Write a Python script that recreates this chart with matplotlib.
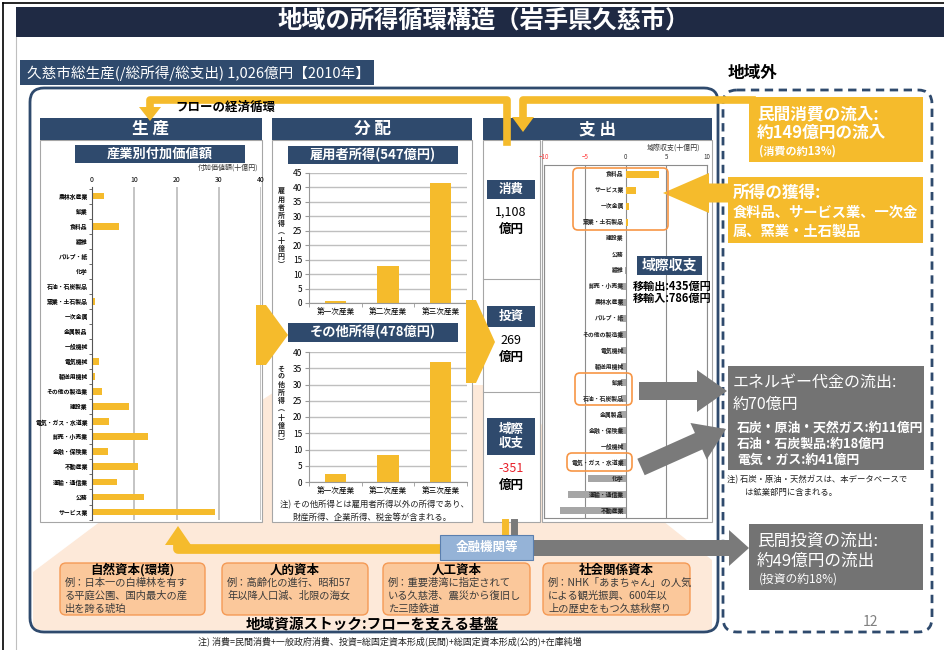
import matplotlib.pyplot as plt
import numpy as np
from matplotlib.patches import Rectangle, FancyBboxPatch, Polygon
from matplotlib.lines import Line2D

plt.rcParams['font.family'] = ['Noto Sans CJK JP', 'DejaVu Sans']

W, H = 944, 650

# ---- data ----
ind_labels = ['農林水産業', '鉱業', '食料品', '繊維', 'パルプ・紙', '化学', '石油・石炭製品',
              '窯業・土石製品', '一次金属', '金属製品', '一般機械', '電気機械', '輸送用機械',
              'その他の製造業', '建設業', '電気・ガス・水道業', '卸売・小売業', '金融・保険業',
              '不動産業', '運輸・通信業', '公務', 'サービス業']
value_added = [2.9, 0.1, 6.5, 0.1, 0.1, 0.1, 0.3, 0.8, 0.0, 0.1, 0.0, 1.7, 0.8,
               2.3, 8.7, 4.0, 13.2, 3.8, 10.8, 5.9, 12.3, 29.1]

sectors = ['第一次産業', '第二次産業', '第三次産業']
employee_income = [0.6, 12.8, 41.4]
other_income = [2.4, 8.4, 37.0]

bal_labels = ['食料品', 'サービス業', '一次金属', '窯業・土石製品', '建設業', '公務', '繊維',
              '卸売・小売業', '農林水産業', 'パルプ・紙', 'その他の製造業', '電気機械',
              '輸送用機械', '鉱業', '石油・石炭製品', '金属製品', '金融・保険業', '一般機械',
              '電気・ガス・水道業', '化学', '運輸・通信業', '不動産業']
balance = [4.1, 1.3, 0.4, 0.3, 0.0, 0.0, -0.1, -0.5, -0.8, -0.7, -0.7, -0.5,
           -0.5, -0.5, -0.6, -0.8, -0.8, -0.5, -0.7, -4.6, -7.0, -8.0]

resources = [
    ('自然資本(環境)', ['例：日本一の白樺林を有す', 'る平庭公園、国内最大の産', '出を誇る琥珀']),
    ('人的資本', ['例：高齢化の進行、昭和57', '年以降人口減、北限の海女']),
    ('人工資本', ['例：重要港湾に指定されて', 'いる久慈港、震災から復旧し', 'た三陸鉄道']),
    ('社会関係資本', ['例：NHK「あまちゃん」の人気', 'による観光振興、600年以', '上の歴史をもつ久慈秋祭り']),
]

navy = '#2f4a6d'
navy_dark = '#1f2a44'
yellow = '#f5bb2c'
gray = '#7a7a7a'
bar_gray = '#a6a6a6'
orange = '#f79646'
peach = '#fde9d9'

fig = plt.figure(figsize=(W / 100, H / 100), dpi=100, facecolor='white')


def pax(x0, y0, x1, y1, z=1):
    return fig.add_axes([x0 / W, 1 - y1 / H, (x1 - x0) / W, (y1 - y0) / H], zorder=z)


def canvas(z):
    a = pax(0, 0, W, H, z)
    a.set_xlim(0, W)
    a.set_ylim(H, 0)
    a.axis('off')
    return a


bg = canvas(0)
fg = canvas(5)


def rect(ax, x0, y0, x1, y1, fc, ec='none', lw=0, z=1):
    ax.add_patch(Rectangle((x0, y0), x1 - x0, y1 - y0, fc=fc, ec=ec, lw=lw, zorder=z))


def rbox(ax, x0, y0, x1, y1, fc, ec, lw=1, r=8, ls='-', z=1):
    ax.add_patch(FancyBboxPatch((x0, y0), x1 - x0, y1 - y0,
                                boxstyle='round,pad=0,rounding_size=%d' % r,
                                fc=fc, ec=ec, lw=lw, ls=ls, zorder=z))


def txt(ax, x, y, s, size, color='black', weight='normal', ha='center', va='center', **kw):
    ax.text(x, y, s, fontsize=size, color=color, fontweight=weight, ha=ha, va=va, **kw)


def arrow(ax, x0, y0, x1, y1, sw, hw, hl, color, z=3):
    d = np.array([x1 - x0, y1 - y0], float)
    L = np.hypot(*d)
    u = d / L
    n = np.array([-u[1], u[0]])
    p0 = np.array([x0, y0], float)
    pb = p0 + u * (L - hl)
    pts = [p0 + n * sw / 2, pb + n * sw / 2, pb + n * hw / 2, np.array([x1, y1]),
           pb - n * hw / 2, pb - n * sw / 2, p0 - n * sw / 2]
    ax.add_patch(Polygon(pts, closed=True, fc=color, ec='none', zorder=z))


# ---- frame, title ----
bg.add_line(Line2D([3, W], [3, 3], color='black', lw=1.2))
bg.add_line(Line2D([3, 3], [3, H], color='black', lw=1.2))
bg.add_line(Line2D([16, 16], [37, H], color='#bfbfbf', lw=0.8))
rect(bg, 16, 7, W, 37, navy_dark)
txt(bg, 484, 21, '地域の所得循環構造（岩手県久慈市）', 17.5, 'white', 'bold')

rect(bg, 20, 60, 374, 85, navy)
txt(bg, 27, 73, '久慈市総生産(/総所得/総支出) 1,026億円【2010年】', 10.5, 'white', ha='left')
txt(bg, 728, 73, '地域外', 12, 'black', 'bold', ha='left')

# peach stock background
bg.add_patch(Polygon([(33, 630), (33, 572), (262, 400), (285, 385), (492, 385), (712, 560),
                      (712, 630)], closed=True, fc=peach, ec='none', zorder=0.5))

rbox(bg, 30, 88, 718, 632, 'none', navy, lw=2, r=14)
rbox(bg, 723, 90, 932, 632, 'none', navy, lw=2, r=14, ls=(0, (3, 2)))

# panels
rect(bg, 40, 140, 262, 522, 'white', '#a6a6a6', 0.8)
rect(bg, 272, 140, 472, 522, 'white', '#a6a6a6', 0.8)
rect(bg, 483, 140, 540, 522, 'white', '#a6a6a6', 0.8)
rect(bg, 542, 140, 712, 522, 'white', '#a6a6a6', 0.8)
for yy in (279, 392):
    bg.add_line(Line2D([483, 540], [yy, yy], color='#a6a6a6', lw=0.8, zorder=2))

for (x0, x1, s) in [(40, 262, '生 産'), (272, 472, '分 配'), (483, 712, '支 出')]:
    rect(bg, x0, 118, x1, 140, navy, z=2)
    txt(bg, (x0 + x1) / 2, 129, s, 12, 'white', 'bold', zorder=3)

rect(bg, 75, 145, 245, 163, navy, z=2)
txt(bg, 160, 154, '産業別付加価値額', 9.5, 'white', 'bold', zorder=3)
txt(bg, 258, 168, '付加価値額(十億円)', 5, '#333333', ha='right', zorder=3)

rect(bg, 288, 146, 458, 164, navy, z=2)
txt(bg, 373, 155, '雇用者所得(547億円)', 9.5, 'white', 'bold', zorder=3)
rect(bg, 288, 323, 458, 342, navy, z=2)
txt(bg, 373, 332, 'その他所得(478億円)', 9.5, 'white', 'bold', zorder=3)

def vlabel(x, y0, s):
    chars = [c.replace('(', '︵').replace(')', '︶') for c in s]
    for i, c in enumerate(chars):
        txt(bg, x, y0 + i * 8.2, c, 5, '#222222', 'bold', zorder=3)

vlabel(281, 191, '雇用者所得(十億円)')
vlabel(281, 368, 'その他所得(十億円)')

txt(bg, 280, 505, '注) その他所得とは雇用者所得以外の所得であり、', 6, '#222222', ha='left', zorder=3)
txt(bg, 293, 517, '財産所得、企業所得、税金等が含まれる。', 6, '#222222', ha='left', zorder=3)

# expenditure left column
for (y0, y1, lab, val, vcol) in [(180, 199, '消費', '1,108', 'black'),
                                  (306, 327, '投資', '269', 'black'),
                                  (418, 455, '域際\n収支', '-351', '#e8202a')]:
    rect(bg, 487, y0, 535, y1, navy, z=2)
    txt(bg, 511, (y0 + y1) / 2, lab, 9, 'white', 'bold', linespacing=1.15, zorder=3)
    txt(bg, 511, y1 + 13, val, 9, vcol, zorder=3)
    txt(bg, 511, y1 + 30, '億円', 9, 'black', 'bold', zorder=3)

txt(bg, 700, 148, '域際収支(十億円)', 5, '#333333', ha='right', zorder=3)

# ---- charts ----
ax1 = pax(92, 187, 261, 520, 1)
y = np.arange(len(ind_labels))
ax1.barh(y, value_added, height=0.45, color=yellow, zorder=2)
ax1.set_xlim(0, 40)
ax1.set_ylim(len(ind_labels) - 1 + 0.53, -0.6)
ax1.xaxis.tick_top()
ax1.set_xticks([0, 10, 20, 30, 40])
ax1.tick_params(axis='x', labelsize=5, length=0, pad=2)
ax1.set_yticks(y)
ax1.set_yticklabels(ind_labels, fontsize=4.2, fontweight='bold')
ax1.set_yticks(np.arange(-0.5, len(ind_labels)), minor=True)
ax1.tick_params(axis='y', which='major', length=0, pad=3)
ax1.tick_params(axis='y', which='minor', length=2, color='#555555')
ax1.grid(axis='x', color='#bfbfbf', lw=1.3, zorder=1)
ax1.set_axisbelow(True)
for s in ('top', 'right', 'bottom'):
    ax1.spines[s].set_visible(False)
ax1.spines['left'].set_color('#555555')
ax1.spines['left'].set_linewidth(0.8)


def income_chart(box, vals, ymax):
    a = pax(*box, 1)
    a.bar(range(3), vals, width=0.4, color=yellow, zorder=2)
    a.set_xlim(-0.5, 2.5)
    a.set_ylim(0, ymax)
    a.set_yticks(np.arange(0, ymax + 1, 5))
    a.set_xticks(range(3))
    a.set_xticklabels(sectors, fontsize=5.5)
    a.set_xticks([-0.5, 0.5, 1.5, 2.5], minor=True)
    a.tick_params(axis='x', which='major', length=0, pad=4)
    a.tick_params(axis='x', which='minor', length=3, color='#999999')
    a.tick_params(axis='y', labelsize=6, length=3, color='#999999', pad=2)
    a.grid(axis='y', color='#bfbfbf', lw=1.0, zorder=1)
    a.set_axisbelow(True)
    for s in ('top', 'right'):
        a.spines[s].set_visible(False)
    for s in ('left', 'bottom'):
        a.spines[s].set_color('#999999')
    return a


income_chart((309, 173, 467, 303), employee_income, 45)
income_chart((309, 352, 467, 482), other_income, 40)

ax4 = pax(544, 165, 707, 518, 1)
yb = np.arange(len(bal_labels))
ax4.barh(yb, balance, height=0.45, color=[yellow if v > 0 else bar_gray for v in balance], zorder=2)
ax4.set_xlim(-10, 10)
ax4.set_ylim(len(bal_labels) - 1 + 0.46, -0.58)
ax4.xaxis.tick_top()
ax4.set_xticks([-10, -5, 0, 5, 10])
ax4.tick_params(axis='x', labelsize=4.5, length=0, pad=3)
for lab, c in zip(ax4.get_xticklabels(), ['#ff3b3b', '#ff3b3b', '#333333', '#333333', '#333333']):
    lab.set_color(c)
ax4.set_yticks([])
ax4.grid(axis='x', color='#8c8c8c', lw=0.8, zorder=1)
ax4.set_axisbelow(True)
for s in ax4.spines.values():
    s.set_color('#8c8c8c')
    s.set_linewidth(0.8)
for i, lab in enumerate(bal_labels):
    ax4.text(-0.2, i, lab, fontsize=4.2, fontweight='bold', ha='right', va='center', zorder=3,
             color='#222222')

# ---- foreground: highlights, arrows, boxes ----
rbox(fg, 573, 168, 668, 230, 'none', orange, lw=1.2, r=5, z=4)
rbox(fg, 575, 373, 632, 405, 'none', orange, lw=1.2, r=5, z=4)
rbox(fg, 567, 453, 632, 471, 'none', orange, lw=1.2, r=5, z=4)

rect(fg, 637, 256, 702, 275, navy, z=4)
txt(fg, 669.5, 265.5, '域際収支', 10, 'white', 'bold', zorder=5)
txt(fg, 633, 286, '移輸出:435億円', 8, 'black', 'bold', ha='left', zorder=5)
txt(fg, 633, 298, '移輸入:786億円', 8, 'black', 'bold', ha='left', zorder=5)

# flow loops
fg.add_line(Line2D([507, 507, 150, 150], [142, 100, 100, 108], color=yellow, lw=5.5,
                   solid_joinstyle='round', zorder=3))
fg.add_patch(Polygon([(139, 107), (161, 107), (150, 121)], closed=True, fc=yellow, zorder=3))
txt(fg, 175, 107, 'フローの経済循環', 9, 'black', 'bold', ha='left', zorder=4)

fg.add_line(Line2D([752, 523, 523], [100, 100, 118], color=yellow, lw=5.5,
                   solid_joinstyle='round', zorder=3))
fg.add_patch(Polygon([(512, 117), (534, 117), (523, 132)], closed=True, fc=yellow, zorder=3))

fg.add_line(Line2D([505, 505], [522, 537], color=yellow, lw=5, zorder=3))
fg.add_line(Line2D([514, 514], [522, 537], color=gray, lw=5, zorder=3))
fg.add_line(Line2D([441, 178, 178], [549, 549, 543], color=yellow, lw=7,
                   solid_joinstyle='round', zorder=3))
fg.add_patch(Polygon([(165, 545), (191, 545), (178, 526)], closed=True, fc=yellow, zorder=3))

# chevrons between panels
fg.add_patch(Polygon([(256, 305), (266, 305), (288, 335), (266, 365), (256, 365)],
                     closed=True, fc=yellow, ec='none', zorder=3))
fg.add_patch(Polygon([(466, 300), (476, 300), (495, 342), (476, 383), (466, 383)],
                     closed=True, fc=yellow, ec='none', zorder=3))

# financial institutions
arrow(fg, 533, 548, 749, 548, 16, 36, 20, gray)
rect(fg, 440, 535, 533, 560, '#95b3d7', '#5b7fae', 0.8, z=4)
txt(fg, 486.5, 547.5, '金融機関等', 9, 'white', 'bold', zorder=5)

# arrows to outside boxes
arrow(fg, 730, 193, 663, 193, 19, 40, 46, yellow)
arrow(fg, 639, 391, 727, 391, 18, 42, 30, gray)
arrow(fg, 641, 467, 726, 429, 18, 40, 30, gray)

# outside boxes
rect(fg, 749, 97, 923, 162, yellow, z=4)
txt(fg, 757, 114, '民間消費の流入:', 12, 'white', 'bold', ha='left', zorder=5)
txt(fg, 757, 133, '約149億円の流入', 12, 'white', 'bold', ha='left', zorder=5)
txt(fg, 759, 151, '(消費の約13%)', 8, 'white', 'bold', ha='left', zorder=5)

rect(fg, 728, 177, 923, 243, yellow, z=4)
txt(fg, 733, 193, '所得の獲得:', 12, 'white', 'bold', ha='left', zorder=5)
txt(fg, 733, 213, '食料品、サービス業、一次金', 10.3, 'white', 'bold', ha='left', zorder=5)
txt(fg, 733, 232, '属、窯業・土石製品', 10.3, 'white', 'bold', ha='left', zorder=5)

rect(fg, 728, 366, 924, 470, '#737373', z=4)
txt(fg, 733, 382, 'エネルギー代金の流出:', 11.5, 'white', ha='left', zorder=5)
txt(fg, 733, 404, '約70億円', 11.5, 'white', ha='left', zorder=5)
txt(fg, 737, 428, '石炭・原油・天然ガス:約11億円', 9.3, 'white', 'bold', ha='left', zorder=5)
txt(fg, 737, 444, '石油・石炭製品:約18億円', 9.3, 'white', 'bold', ha='left', zorder=5)
txt(fg, 737, 460, '電気・ガス:約41億円', 9.3, 'white', 'bold', ha='left', zorder=5)
txt(fg, 727, 480, '注) 石炭・原油・天然ガスは、本データベースで', 6, '#222222', ha='left', zorder=5)
txt(fg, 745, 492, 'は鉱業部門に含まれる。', 6, '#222222', ha='left', zorder=5)

rect(fg, 749, 524, 923, 590, '#737373', z=4)
txt(fg, 757, 541, '民間投資の流出:', 12, 'white', ha='left', zorder=5)
txt(fg, 757, 561, '約49億円の流出', 12, 'white', ha='left', zorder=5)
txt(fg, 759, 579, '(投資の約18%)', 8.5, 'white', ha='left', zorder=5)

# stock boxes
for (x0, x1), (title, lines) in zip([(60, 205), (222, 368), (383, 530), (543, 690)], resources):
    rbox(fg, x0, 563, x1, 615, '#fbc89b', '#f59a55', lw=1, r=6, z=3)
    txt(fg, (x0 + x1) / 2, 570, title, 9, 'black', 'bold', zorder=4)
    for k, line in enumerate(lines):
        txt(fg, x0 + 5, 583 + k * 13, line, 7.4, '#3a3a3a', ha='left', zorder=4)
txt(fg, 372, 624, '地域資源ストック:フローを支える基盤', 10.5, 'black', 'bold', zorder=4)
txt(fg, 198, 641, '注) 消費=民間消費+一般政府消費、投資=総固定資本形成(民間)+総固定資本形成(公的)+在庫純増',
    6.5, '#222222', ha='left', zorder=4)
txt(fg, 870, 622, '12', 10, '#808080', zorder=4)

fig.savefig('out.png', dpi=100, facecolor='white')
